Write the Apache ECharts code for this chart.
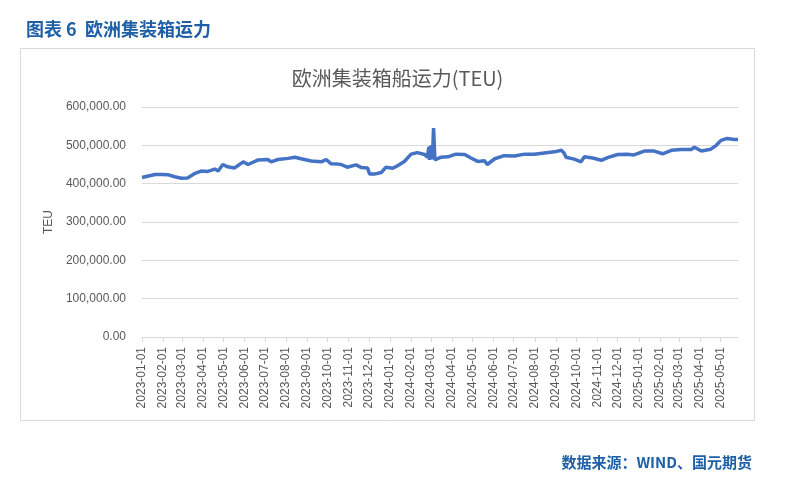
<!DOCTYPE html>
<html>
<head>
<meta charset="utf-8">
<script src="https://cdn.jsdelivr.net/npm/echarts@6/dist/echarts.min.js"></script>
<style>html,body{margin:0;padding:0;background:#fff}#c{width:795px;height:491px}</style>
</head>
<body>
<div id="c"></div>
<script>
// ---- data ----
var startDate = '2023-01-01';
var endDate = '2025-05-27';
var obsDates = [
'2023-01-01','2023-01-20','2023-01-30','2023-02-09','2023-02-18','2023-02-28','2023-03-09','2023-03-19','2023-03-29',
'2023-04-08','2023-04-18','2023-04-23','2023-04-30','2023-05-07','2023-05-17','2023-05-30','2023-06-06','2023-06-21',
'2023-07-05','2023-07-10','2023-07-20','2023-08-04','2023-08-14','2023-08-23','2023-09-07','2023-09-22','2023-09-29',
'2023-10-06','2023-10-16','2023-10-21','2023-10-30','2023-11-12','2023-11-20','2023-11-29','2023-12-02','2023-12-09',
'2023-12-19','2023-12-26','2024-01-05','2024-01-12','2024-01-22','2024-02-01','2024-02-10','2024-02-21','2024-02-25',
'2024-02-26','2024-02-27','2024-02-28','2024-02-29','2024-03-01','2024-03-02','2024-03-03','2024-03-04','2024-03-05',
'2024-03-06','2024-03-07','2024-03-16','2024-03-26','2024-04-07','2024-04-20','2024-04-29','2024-05-09','2024-05-19',
'2024-05-23','2024-06-03','2024-06-17','2024-07-02','2024-07-17','2024-07-31','2024-08-15','2024-08-30','2024-09-09',
'2024-09-13','2024-09-16','2024-09-28','2024-10-08','2024-10-13','2024-10-25','2024-11-07','2024-11-16','2024-12-01',
'2024-12-15','2024-12-25','2025-01-09','2025-01-24','2025-02-05','2025-02-18','2025-03-04','2025-03-19','2025-03-24',
'2025-04-03','2025-04-17','2025-04-25','2025-05-02','2025-05-11','2025-05-22','2025-05-27'
];
var capacityTEU = [
416000,424000,424000,423000,418000,414000,415000,426000,433000,
432000,438000,433000,450000,444000,441000,457000,450000,462000,
463000,457000,463000,466000,469000,465000,459000,457000,463000,
452000,451000,450000,443000,449000,442000,441000,425000,425000,
429000,443000,440000,447000,458000,477000,481000,476000,469000,
465000,495000,462000,498000,464000,500000,463000,497000,545000,
540000,462000,469000,470000,477000,476000,467000,458000,460000,
450000,465000,473000,472000,477000,477000,480000,483000,487000,
480000,469000,464000,457000,470000,467000,461000,468000,476000,
477000,475000,485000,485000,478000,487000,489000,489000,495000,
485000,490000,500000,513000,518000,515000,515000
];
var yTicks = [0,100000,200000,300000,400000,500000,600000];

// ---- build daily category axis ----
function fmt(d){var m=d.getUTCMonth()+1, dd=d.getUTCDate();return d.getUTCFullYear()+'-'+(m<10?'0':'')+m+'-'+(dd<10?'0':'')+dd;}
var cats = [];
var d = new Date(startDate+'T00:00:00Z'), e = new Date(endDate+'T00:00:00Z');
while (d <= e) { cats.push(fmt(d)); d = new Date(d.getTime()+86400000); }
var lookup = {};
obsDates.forEach(function(k,i){ lookup[k]=capacityTEU[i]; });
var seriesData = cats.map(function(c){ return lookup.hasOwnProperty(c) ? lookup[c] : null; });

function isMonthStart(idx, val){ return /-01$/.test(val); }

var chart = echarts.init(document.getElementById('c'));
chart.setOption({
  animation: false,
  backgroundColor: '#fff',
  textStyle: { fontFamily: 'Liberation Sans, Arial, sans-serif' },
  graphic: [
    { type: 'rect', shape: { x: 20.5, y: 48.5, width: 734, height: 372 },
      style: { fill: 'none', stroke: '#d9d9d9', lineWidth: 1 }, silent: true }
  ],
  title: [
    { text: '图表 6  欧洲集装箱运力', left: 21, top: 15,
      textStyle: { fontFamily: 'Noto Sans CJK SC', fontSize: 18, fontWeight: 'bold', color: '#1f5fa6' } },
    { text: '欧洲集装箱船运力(TEU)', left: 'center', top: 63,
      textStyle: { fontFamily: 'Noto Sans CJK SC', fontSize: 20, fontWeight: 'normal', color: '#595959' } },
    { text: '数据来源：WIND、国元期货', right: 38, top: 450,
      textStyle: { fontFamily: 'Noto Sans CJK SC', fontSize: 15, fontWeight: 'bold', color: '#1f5fa6' } }
  ],
  grid: { left: 142, right: 57, top: 107, bottom: 154, containLabel: false },
  xAxis: {
    type: 'category',
    data: cats,
    boundaryGap: false,
    axisLine: { show: true, lineStyle: { color: '#d9d9d9', width: 1 } },
    axisTick: { show: true, interval: isMonthStart, length: 5, lineStyle: { color: '#d9d9d9' } },
    axisLabel: { interval: isMonthStart, rotate: 90, margin: 10, fontSize: 12, color: '#595959',
                 fontFamily: 'Liberation Sans, Arial, sans-serif' },
    splitLine: { show: false }
  },
  yAxis: {
    type: 'value',
    min: yTicks[0], max: yTicks[yTicks.length-1], interval: yTicks[1]-yTicks[0],
    name: 'TEU', nameLocation: 'middle', nameGap: 81, nameRotate: 90,
    nameTextStyle: { fontSize: 12, color: '#595959' },
    axisLine: { show: false }, axisTick: { show: false },
    axisLabel: { margin: 16, fontSize: 12, color: '#595959',
      formatter: function(v){ return v.toLocaleString('en-US',{minimumFractionDigits:2, maximumFractionDigits:2}); } },
    splitLine: { lineStyle: { color: '#d9d9d9', width: 1 } }
  },
  series: [{
    type: 'line',
    data: seriesData,
    connectNulls: true,
    showSymbol: false,
    lineStyle: { color: '#4472c4', width: 3.5 },
    itemStyle: { color: '#4472c4' }
  }]
});
</script>
</body>
</html>
